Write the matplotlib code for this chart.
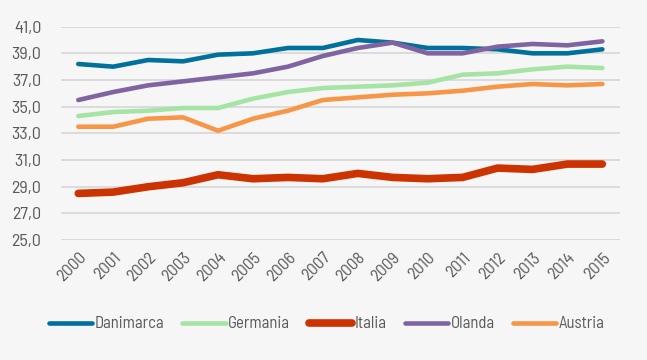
import matplotlib.pyplot as plt
from matplotlib.ticker import FuncFormatter

plt.rcParams['font.family'] = ['Barlow Semi Condensed', 'DejaVu Sans']

years = list(range(2000, 2016))

danimarca = [38.2, 38.0, 38.5, 38.4, 38.9, 39.0, 39.4, 39.4, 40.0, 39.8, 39.4, 39.4, 39.3, 39.0, 39.0, 39.3]
germania = [34.3, 34.6, 34.7, 34.9, 34.9, 35.6, 36.1, 36.4, 36.5, 36.6, 36.8, 37.4, 37.5, 37.8, 38.0, 37.9]
italia = [28.5, 28.6, 29.0, 29.3, 29.9, 29.6, 29.7, 29.6, 30.0, 29.7, 29.6, 29.7, 30.4, 30.3, 30.7, 30.7]
olanda = [35.5, 36.1, 36.6, 36.9, 37.2, 37.5, 38.0, 38.8, 39.4, 39.8, 39.0, 39.0, 39.5, 39.7, 39.6, 39.9]
austria = [33.5, 33.5, 34.1, 34.2, 33.2, 34.1, 34.7, 35.5, 35.7, 35.9, 36.0, 36.2, 36.5, 36.7, 36.6, 36.7]

series = [
    ('Danimarca', danimarca, '#00709C', 3.3),
    ('Germania', germania, '#A6E4A6', 3.3),
    ('Italia', italia, '#CC3300', 5.5),
    ('Olanda', olanda, '#8064A2', 3.3),
    ('Austria', austria, '#F79646', 3.3),
]

bg = '#F6F6F6'
text_col = '#595959'

fig = plt.figure(figsize=(6.47, 3.6), dpi=100, facecolor=bg)
ax = fig.add_axes([0.094, 0.333, 0.864, 0.593], facecolor=bg)

x = list(range(len(years)))
for name, vals, col, lw in series:
    ax.plot(x, vals, color=col, lw=lw, label=name,
            solid_capstyle='round', solid_joinstyle='round')

ax.set_xlim(-0.5, len(years) - 0.5)
ax.set_ylim(25, 41)
ax.set_yticks([25, 27, 29, 31, 33, 35, 37, 39, 41])
ax.yaxis.set_major_formatter(FuncFormatter(lambda v, p: f'{v:.1f}'.replace('.', ',')))
ax.set_xticks(x)
ax.set_xticklabels([str(y) for y in years], rotation=45, ha='right',
                   rotation_mode='anchor')

ax.grid(axis='y', color='#D9D9D9', lw=1.3)
ax.set_axisbelow(True)
for s in ax.spines.values():
    s.set_visible(False)
ax.tick_params(length=0, colors=text_col)
ax.tick_params(axis='y', pad=14, labelsize=13)
ax.tick_params(axis='x', pad=7, labelsize=12.5)

leg = fig.legend(loc='center', bbox_to_anchor=(0.505, 0.1), ncol=5, frameon=False,
                 fontsize=12, handlelength=2.6, handletextpad=0.15,
                 columnspacing=1.1, labelcolor=text_col)

fig.savefig('out.png', dpi=100, facecolor=bg)
